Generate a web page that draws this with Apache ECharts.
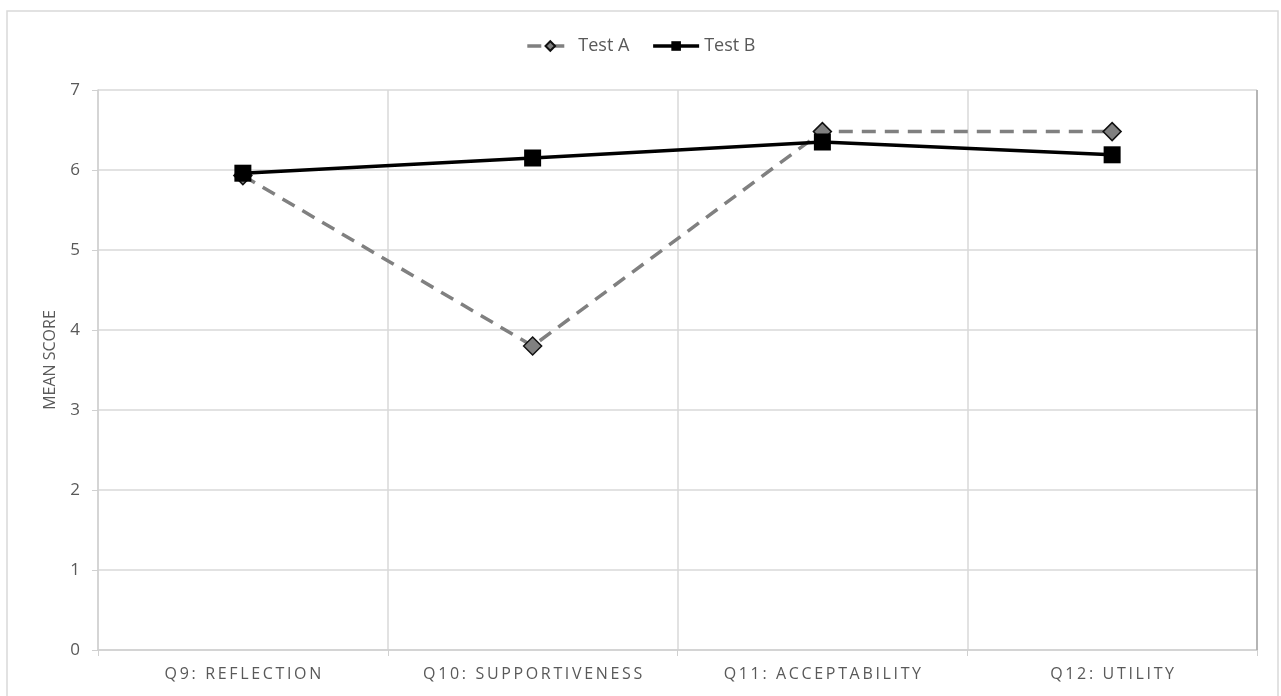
<!DOCTYPE html>
<html>
<head>
<meta charset="utf-8">
<script src="https://cdn.jsdelivr.net/npm/echarts@6/dist/echarts.min.js"></script>
<style>
  html, body { margin: 0; padding: 0; background: #fff; }
  #chart { width: 1281px; height: 696px; }
</style>
</head>
<body>
<div id="chart"></div>
<script>
// Survey questions on the category axis
const categories = ['Q9: REFLECTION', 'Q10: SUPPORTIVENESS', 'Q11: ACCEPTABILITY', 'Q12: UTILITY'];
// Mean scores per test
const testA = [5.93, 3.8, 6.48, 6.48];
const testB = [5.96, 6.15, 6.35, 6.19];
// Value axis ticks
const yTicks = [0, 1, 2, 3, 4, 5, 6, 7];

const font = '"Open Sans", "Liberation Sans", sans-serif';
// widen the category labels with thin spaces between letters
const spaced = s => s.split('').join('\u2009');

const chart = echarts.init(document.getElementById('chart'), null, { renderer: 'canvas' });
chart.setOption({
  backgroundColor: '#fff',
  animation: false,
  graphic: [{
    type: 'rect',
    shape: { x: 7, y: 11, width: 1271, height: 700 },
    style: { fill: 'none', stroke: '#d9d9d9', lineWidth: 1.5 },
    silent: true
  }, {
    // darker right edge of the plot area
    type: 'line',
    shape: { x1: 1257, y1: 90, x2: 1257, y2: 650 },
    style: { stroke: '#a6a6a6', lineWidth: 1.5 },
    silent: true,
    z: 1
  }, {
    // value axis title
    type: 'text',
    x: 50,
    y: 360,
    rotation: Math.PI / 2,
    style: {
      text: 'MEAN SCORE',
      font: '16px ' + font,
      fill: '#595959',
      align: 'center',
      verticalAlign: 'middle'
    },
    silent: true
  }],
  legend: {
    top: 32,
    left: 'center',
    itemWidth: 46,
    itemHeight: 12,
    itemGap: 22,
    lineStyle: { width: 3.5 },
    textStyle: { fontFamily: font, fontSize: 18, color: '#595959' },
    data: ['Test A', 'Test B']
  },
  grid: { left: 98, right: 24, top: 90, bottom: 46 },
  xAxis: {
    type: 'category',
    data: categories,
    boundaryGap: true,
    axisLine: { lineStyle: { color: '#d0d0d0', width: 1.5 } },
    axisTick: { show: true, length: 6, lineStyle: { color: '#d0d0d0' } },
    axisLabel: {
      margin: 16,
      fontFamily: font,
      fontSize: 16,
      color: '#595959',
      formatter: v => spaced(v)
    },
    splitLine: { show: true, lineStyle: { color: '#d9d9d9', width: 1.5 } }
  },
  yAxis: {
    type: 'value',
    min: yTicks[0],
    max: yTicks[yTicks.length - 1],
    interval: 1,
    axisLine: { show: true, lineStyle: { color: '#d0d0d0', width: 1.5 } },
    axisTick: { show: true, length: 6, lineStyle: { color: '#d0d0d0' } },
    axisLabel: { margin: 18, fontFamily: font, fontSize: 17, color: '#595959' },
    splitLine: { lineStyle: { color: '#d9d9d9', width: 1.5 } }
  },
  series: [
    {
      name: 'Test A',
      type: 'line',
      data: testA,
      symbol: 'diamond',
      symbolSize: 18,
      lineStyle: { color: '#808080', width: 3.5, type: [14, 9] },
      itemStyle: { color: '#808080', borderColor: '#111', borderWidth: 1.5 },
      z: 2
    },
    {
      name: 'Test B',
      type: 'line',
      data: testB,
      symbol: 'rect',
      symbolSize: 17,
      lineStyle: { color: '#000', width: 3.5 },
      itemStyle: { color: '#000', borderColor: '#000', borderWidth: 0 },
      z: 3
    }
  ]
});
</script>
</body>
</html>
